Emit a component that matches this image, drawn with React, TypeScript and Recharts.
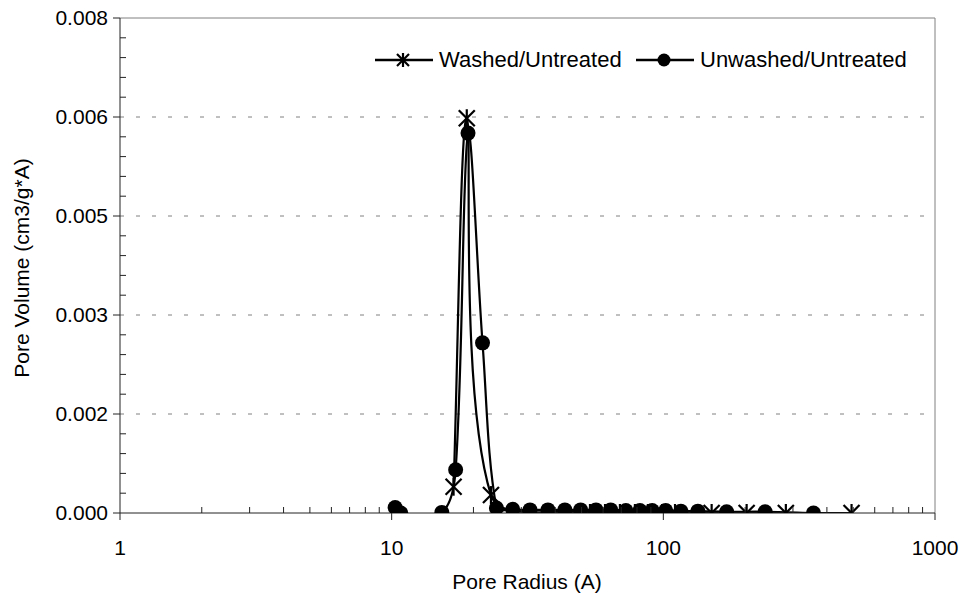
import { Line, LineChart, ReferenceLine, XAxis, YAxis } from "recharts";

const FONT = "'Liberation Sans', Arial, sans-serif";
const AXIS = "#222";
const FRAME = "#808080";

// pore radius (A) / pore volume (cm3/g*A)
const washedRadius = [16.9, 18.9, 23.2, 53.7, 61, 69.2, 78.6, 87.7, 98.9, 110.4, 150.6, 202.6, 282.5, 493];
const washedVolume = [0.000425, 0.00638, 0.00029, 0.0, 0.0, 0.0, 0.0, 0.0, 0.0, 0.0, 0.0, 0.0, 0.0, 0.0];

const unwashedRadius = [10.3, 10.8, 15.3, 17.2, 19.1, 21.6, 24.3, 27.9, 32.3, 37.6, 43.4, 49.6, 56.5, 64, 72.8, 82, 91, 102, 116, 134, 171, 237, 357];
const unwashedVolume = [0.00009, 0.0, 0.00001, 0.0007, 0.00614, 0.00275, 0.00008, 0.00006, 0.00005, 0.00005, 0.00005, 0.00005, 0.00005, 0.00005, 0.00004, 0.00004, 0.00004, 0.00004, 0.00003, 0.00003, 0.00002, 0.00002, 0.0];

const xTicks = [1, 2, 3, 4, 5, 6, 7, 8, 9, 10, 20, 30, 40, 50, 60, 70, 80, 90, 100, 200, 300, 400, 500, 600, 700, 800, 900, 1000];
const xMajor = [1, 10, 100, 1000];

const yTicks = [
  0, 0.00032, 0.00064, 0.00096, 0.00128, 0.0016, 0.00192, 0.00224, 0.00256, 0.00288, 0.0032, 0.00352, 0.00384,
  0.00416, 0.00448, 0.0048, 0.00512, 0.00544, 0.00576, 0.00608, 0.0064, 0.00672, 0.00704, 0.00736, 0.00768, 0.008,
];
const yMajor = [0, 0.0016, 0.0032, 0.0048, 0.0064, 0.008];
const gridValues = [0.0016, 0.0032, 0.0048, 0.0064];

const washed = washedRadius.map((x, i) => ({ x, y: washedVolume[i] }));
const unwashed = unwashedRadius.map((x, i) => ({ x, y: unwashedVolume[i] }));

// smoothed line like the spreadsheet one: bezier through every point,
// handles scaled by the neighbouring segment lengths so it only overshoots a little
function smoothCurve(context: any) {
  let pts: number[][] = [];
  const dist = (a: number[], b: number[]) => Math.hypot(b[0] - a[0], b[1] - a[1]);
  return {
    areaStart() {},
    areaEnd() {},
    lineStart() {
      pts = [];
    },
    point(x: number, y: number) {
      pts.push([+x, +y]);
    },
    lineEnd() {
      if (!pts.length) return;
      context.moveTo(pts[0][0], pts[0][1]);
      for (let i = 0; i < pts.length - 1; i++) {
        const p0 = pts[Math.max(i - 1, 0)];
        const p1 = pts[i];
        const p2 = pts[i + 1];
        const p3 = pts[Math.min(i + 2, pts.length - 1)];
        const d01 = dist(p0, p1);
        const d12 = dist(p1, p2);
        const d23 = dist(p2, p3);
        const f1 = d01 + d12 > 0 ? d12 / (d01 + d12) / 3 : 0;
        const f2 = d12 + d23 > 0 ? d12 / (d12 + d23) / 3 : 0;
        context.bezierCurveTo(
          p1[0] + (p2[0] - p0[0]) * f1,
          p1[1] + (p2[1] - p0[1]) * f1,
          p2[0] - (p3[0] - p1[0]) * f2,
          p2[1] - (p3[1] - p1[1]) * f2,
          p2[0],
          p2[1]
        );
      }
    },
  };
}

function Star({ cx, cy, s = 8 }: any) {
  if (cx == null || cy == null) return null;
  return (
    <g stroke="#000" strokeWidth={2.2}>
      <line x1={cx - s} y1={cy - s} x2={cx + s} y2={cy + s} />
      <line x1={cx - s} y1={cy + s} x2={cx + s} y2={cy - s} />
      <line x1={cx} y1={cy - s - 1} x2={cx} y2={cy + s + 1} />
    </g>
  );
}

function Dot({ cx, cy, r = 7.5 }: any) {
  if (cx == null || cy == null) return null;
  return <circle cx={cx} cy={cy} r={r} fill="#000" />;
}

function XTick({ x, y, payload }: any) {
  const v = payload.value;
  const major = xMajor.includes(v);
  return (
    <g>
      <line x1={x} x2={x} y1={y} y2={major ? y + 7 : y - 6} stroke={AXIS} />
      {major && (
        <text x={x} y={y + 42} textAnchor="middle" fontSize={21} fontFamily={FONT} fill="#000">
          {v}
        </text>
      )}
    </g>
  );
}

function YTick({ x, y, payload }: any) {
  const v = payload.value;
  const major = yMajor.includes(v);
  return (
    <g>
      <line x1={major ? x - 7 : x} x2={major ? x : x + 6} y1={y} y2={y} stroke={AXIS} />
      {major && (
        <text x={x - 12} y={y} dy="0.35em" textAnchor="end" fontSize={21} fontFamily={FONT} fill="#000">
          {v.toFixed(3)}
        </text>
      )}
    </g>
  );
}

function YTitle() {
  return (
    <text x={22} y={268} transform="rotate(-90 22 268)" dy="0.35em" textAnchor="middle" fontSize={21} fontFamily={FONT} fill="#000">
      Pore Volume (cm3/g*A)
    </text>
  );
}

function XTitle() {
  return (
    <text x={527} y={582} dy="0.35em" textAnchor="middle" fontSize={21} fontFamily={FONT} fill="#000">
      Pore Radius (A)
    </text>
  );
}

function LegendItem({ left, label, star }: { left: number; label: string; star: boolean }) {
  return (
    <div style={{ position: "absolute", left, top: 48, height: 24, display: "flex", alignItems: "center" }}>
      <svg width={58} height={24}>
        <line x1={0} x2={58} y1={12} y2={12} stroke="#000" strokeWidth={2.5} />
        {star ? <Star cx={28} cy={12} s={6} /> : <Dot cx={28} cy={12} r={6.5} />}
      </svg>
      <span style={{ marginLeft: 6, fontSize: 22, fontFamily: FONT, color: "#000", whiteSpace: "nowrap" }}>{label}</span>
    </div>
  );
}

export default function App() {
  return (
    <div style={{ position: "absolute", left: 0, top: 0, width: 966, height: 602, background: "#fff" }}>
      <LineChart width={966} height={602} margin={{ top: 18, right: 31, left: 0, bottom: 0 }}>
        <XAxis
          type="number"
          dataKey="x"
          scale="log"
          domain={[1, 1000]}
          ticks={xTicks}
          interval={0}
          tickSize={0}
          tickMargin={0}
          tickLine={false}
          tick={<XTick />}
          height={89}
          axisLine={{ stroke: AXIS }}
          label={<XTitle />}
          allowDataOverflow
        />
        <YAxis
          type="number"
          dataKey="y"
          domain={[0, 0.008]}
          ticks={yTicks}
          interval={0}
          tickSize={0}
          tickMargin={0}
          tickLine={false}
          tick={<YTick />}
          width={120}
          axisLine={{ stroke: AXIS }}
          label={<YTitle />}
          allowDataOverflow
        />
        {gridValues.map((v) => (
          <ReferenceLine key={v} y={v} stroke={FRAME} strokeDasharray="4 12" />
        ))}
        <ReferenceLine y={0.008} stroke={FRAME} />
        <ReferenceLine x={1000} stroke={FRAME} />
        <Line
          data={washed}
          dataKey="y"
          name="Washed/Untreated"
          type={smoothCurve as any}
          stroke="#000"
          strokeWidth={2.2}
          dot={(p: any) => <Star key={`w${p.index}`} cx={p.cx} cy={p.cy} />}
          activeDot={false}
          isAnimationActive={false}
        />
        <Line
          data={unwashed}
          dataKey="y"
          name="Unwashed/Untreated"
          type={smoothCurve as any}
          stroke="#000"
          strokeWidth={2.2}
          dot={(p: any) => <Dot key={`u${p.index}`} cx={p.cx} cy={p.cy} />}
          activeDot={false}
          isAnimationActive={false}
        />
      </LineChart>
      <LegendItem left={375} label="Washed/Untreated" star />
      <LegendItem left={636} label="Unwashed/Untreated" star={false} />
    </div>
  );
}
